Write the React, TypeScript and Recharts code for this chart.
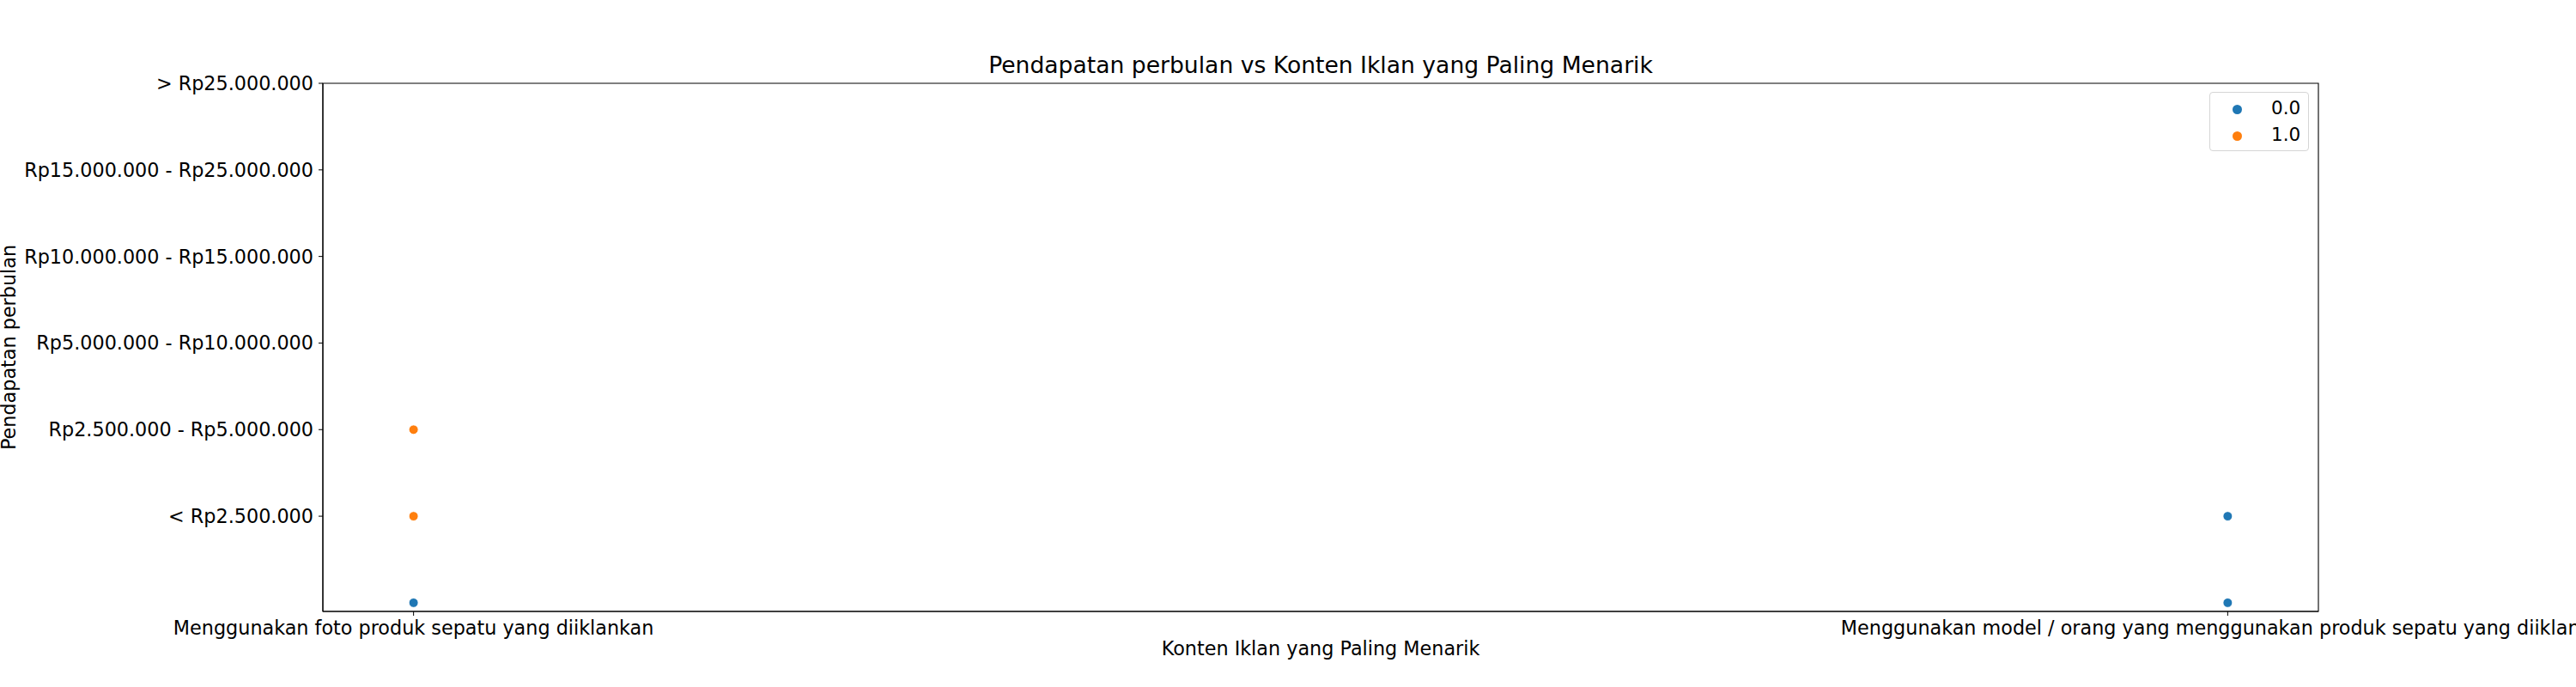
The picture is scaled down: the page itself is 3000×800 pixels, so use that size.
import {
  Label,
  Legend,
  ReferenceArea,
  Scatter,
  ScatterChart,
  XAxis,
  YAxis,
} from "recharts";

const FONT = "'DejaVu Sans', sans-serif";

const contentTypes = [
  "Menggunakan foto produk sepatu yang diiklankan",
  "Menggunakan model / orang yang menggunakan produk sepatu yang diiklankan",
];

// y positions 1..6 carry these labels; position 0 has no tick label
const incomeLevels = [
  "< Rp2.500.000",
  "Rp2.500.000 - Rp5.000.000",
  "Rp5.000.000 - Rp10.000.000",
  "Rp10.000.000 - Rp15.000.000",
  "Rp15.000.000 - Rp25.000.000",
  "> Rp25.000.000",
];

const groupNames = ["0.0", "1.0"];
const groupColors = ["#1f77b4", "#ff7f0e"];

// group 0.0
const group0Content = [0, 1, 1];
const group0Income = [0, 0, 1];

// group 1.0
const group1Content = [0, 0];
const group1Income = [1, 2];

const toPoints = (xs: number[], ys: number[]) =>
  xs.map((x, i) => ({ x, y: ys[i] }));

const series = [
  toPoints(group0Content, group0Income),
  toPoints(group1Content, group1Income),
];

const dot = (color: string) => (props: any) =>
  (
    <circle
      cx={props.cx}
      cy={props.cy}
      r={5.4}
      fill={color}
      stroke="#fff"
      strokeWidth={0.8}
    />
  );

function LegendBox() {
  return (
    <div
      style={{
        position: "relative",
        width: 116,
        height: 69,
        boxSizing: "border-box",
        border: "1px solid #d5d5d5",
        borderRadius: 4,
        background: "rgba(255,255,255,0.8)",
        fontFamily: FONT,
        fontSize: 21.5,
        color: "#000",
      }}
    >
      {groupNames.map((name, i) => (
        <div key={name}>
          <span
            style={{
              position: "absolute",
              left: 25.5,
              top: 13.5 + i * 31,
              width: 11,
              height: 11,
              borderRadius: "50%",
              background: groupColors[i],
            }}
          />
          <span
            style={{
              position: "absolute",
              left: 71,
              top: 5 + i * 31,
              lineHeight: "26px",
            }}
          >
            {name}
          </span>
        </div>
      ))}
    </div>
  );
}

export default function App() {
  return (
    <div style={{ position: "absolute", left: 0, top: 0, background: "#fff" }}>
      <ScatterChart
        width={3000}
        height={800}
        margin={{ top: 97, right: 300, bottom: 0, left: 0 }}
        style={{ fontFamily: FONT }}
      >
        <text
          x={1538}
          y={85}
          textAnchor="middle"
          fontSize={26.6}
          fontFamily={FONT}
          fill="#000"
        >
          Pendapatan perbulan vs Konten Iklan yang Paling Menarik
        </text>
        <XAxis
          type="number"
          dataKey="x"
          domain={[-0.05, 1.05]}
          allowDataOverflow
          ticks={[0, 1]}
          interval={0}
          height={88}
          tickFormatter={(v: number) => contentTypes[v] ?? ""}
          tickSize={5}
          tickMargin={6}
          tick={{ fill: "#000", fontSize: 22.3, fontFamily: FONT }}
          tickLine={{ stroke: "#000", strokeWidth: 1 }}
          axisLine={{ stroke: "#000", strokeWidth: 1.1 }}
        >
          <Label
            value="Konten Iklan yang Paling Menarik"
            position="insideBottom"
            offset={37}
            fill="#000"
            fontSize={22.3}
            fontFamily={FONT}
          />
        </XAxis>
        <YAxis
          type="number"
          dataKey="y"
          domain={[-0.1, 6]}
          allowDataOverflow
          ticks={[1, 2, 3, 4, 5, 6]}
          interval={0}
          width={376}
          tickFormatter={(v: number) => incomeLevels[v - 1] ?? ""}
          tickSize={5}
          tickMargin={6}
          tick={{ fill: "#000", fontSize: 22.3, fontFamily: FONT }}
          tickLine={{ stroke: "#000", strokeWidth: 1 }}
          axisLine={{ stroke: "#000", strokeWidth: 1.1 }}
        >
          <Label
            value="Pendapatan perbulan"
            angle={-90}
            position="insideLeft"
            offset={10.5}
            textAnchor="middle"
            fill="#000"
            fontSize={22.3}
            fontFamily={FONT}
          />
        </YAxis>
        <ReferenceArea
          x1={-0.05}
          x2={1.05}
          y1={-0.1}
          y2={6}
          fill="none"
          stroke="#000"
          strokeWidth={1.1}
          ifOverflow="visible"
        />
        {series.map((pts, i) => (
          <Scatter
            key={groupNames[i]}
            name={groupNames[i]}
            data={pts}
            fill={groupColors[i]}
            shape={dot(groupColors[i])}
            isAnimationActive={false}
          />
        ))}
        <Legend
          layout="vertical"
          align="center"
          verticalAlign="middle"
          wrapperStyle={{ top: 107, left: 2573, width: 116 }}
          content={() => <LegendBox />}
        />
      </ScatterChart>
    </div>
  );
}
